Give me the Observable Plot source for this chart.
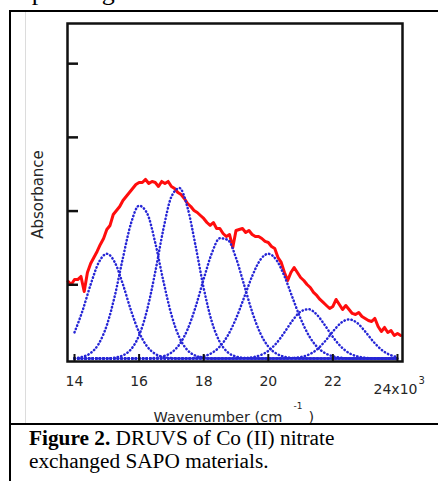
<!DOCTYPE html>
<html>
<head>
<meta charset="utf-8">
<script src="https://cdn.jsdelivr.net/npm/d3@7"></script>
<script src="https://cdn.jsdelivr.net/npm/@observablehq/plot@0.6"></script>
<style>
  html, body { margin: 0; padding: 0; background: white; }
  #page { position: relative; width: 438px; height: 481px; overflow: hidden; background: white; }
  .serif { font-family: "Liberation Serif", "Times New Roman", serif; color: #000; white-space: nowrap; }
  #toptext { position: absolute; left: 10px; top: -22.8px; font-size: 26px; line-height: 30px; }
  #caption { position: absolute; left: 29px; top: 427.2px; font-size: 21.3px; line-height: 23px; }
  .hline { position: absolute; background: #000; }
  #chart { position: absolute; left: 25px; top: 12px; }
</style>
</head>
<body>
<div id="page">
  <div id="toptext" class="serif">separate grant.</div>
  <div id="chart"></div>
  <div class="hline" style="left:9px; top:10px; width:429px; height:2px;"></div>
  <div class="hline" style="left:9px; top:10px; width:2px; height:471px;"></div>
  <div class="hline" style="left:25px; top:12px; width:1px; height:411px; background:#dcdcdc;"></div>
  <div class="hline" style="left:9px; top:423px; width:429px; height:2px;"></div>
  <div id="caption" class="serif"><b>Figure 2.</b> DRUVS of Co (II) nitrate<br>exchanged SAPO materials.</div>
</div>
<script>
// Measured spectrum (red): wavenumber in 10^3 cm^-1, absorbance in arbitrary units
const wavenumber = [13.8,13.9,14.0,14.1,14.2,14.3,14.4,14.5,14.6,14.7,14.8,14.9,15.0,15.1,15.2,15.3,15.4,15.5,15.6,15.7,15.8,15.9,
  16.0,16.1,16.2,16.3,16.4,16.5,16.6,16.7,16.8,16.9,17.0,17.1,17.2,17.3,17.4,17.5,17.6,17.7,17.8,17.9,
  18.0,18.1,18.2,18.3,18.4,18.5,18.6,18.7,18.8,18.9,19.0,19.1,19.2,19.3,19.4,19.5,19.6,19.7,19.8,19.9,
  20.0,20.1,20.2,20.3,20.4,20.5,20.6,20.7,20.8,20.9,21.0,21.1,21.2,21.3,21.4,21.5,21.6,21.7,21.8,21.9,
  22.0,22.1,22.2,22.3,22.4,22.5,22.6,22.7,22.8,22.9,23.0,23.1,23.2,23.3,23.4,23.5,23.6,23.7,23.8,23.9,
  24.0,24.1];
const absorbance = [1.045,1.004,1.072,1.070,1.113,0.908,1.167,1.289,1.370,1.452,1.547,1.628,1.750,1.805,1.954,2.008,2.062,2.144,2.198,2.252,2.307,2.361,
  2.388,2.388,2.429,2.375,2.402,2.388,2.334,2.402,2.375,2.402,2.334,2.307,2.252,2.225,2.171,2.103,2.062,2.008,1.981,1.940,
  1.900,1.845,1.805,1.845,1.764,1.764,1.696,1.655,1.682,1.506,1.737,1.750,1.764,1.710,1.737,1.682,1.655,1.655,1.628,1.588,
  1.574,1.520,1.493,1.370,1.303,1.167,1.058,1.167,1.235,1.167,1.099,1.058,1.004,0.963,0.896,0.855,0.801,0.760,0.719,0.678,
  0.706,0.801,0.733,0.665,0.719,0.665,0.611,0.597,0.624,0.570,0.543,0.516,0.502,0.543,0.434,0.366,0.421,0.353,0.380,0.312,
  0.339,0.312];

// Fitted component bands (blue dotted), sampled on a common wavenumber grid
const bandX = [14.0,14.25,14.5,14.75,15.0,15.25,15.5,15.75,16.0,16.25,16.5,16.75,17.0,17.25,17.5,17.75,18.0,18.25,18.5,18.75,
  19.0,19.25,19.5,19.75,20.0,20.25,20.5,20.75,21.0,21.25,21.5,21.75,22.0,22.25,22.5,22.75,23.0,23.25,23.5,23.75,24.0];
const band1 = [0.354,0.650,1.004,1.302,1.42,1.302,1.004,0.650,0.354,0.162,0.062,0.020,0.005,0,0,0,0,0,0,0,
  0,0,0,0,0,0,0,0,0,0,0,0,0,0,0,0,0,0,0,0,0];
const band2 = [0.006,0.023,0.074,0.199,0.450,0.855,1.367,1.835,2.073,1.968,1.570,1.053,0.594,0.282,0.112,0.038,0.011,0,0,0,
  0,0,0,0,0,0,0,0,0,0,0,0,0,0,0,0,0,0,0,0,0];
const band3 = [0,0,0,0,0,0.012,0.042,0.125,0.314,0.663,1.174,1.751,2.195,2.312,2.047,1.524,0.954,0.502,0.222,0.082,
  0.026,0.007,0,0,0,0,0,0,0,0,0,0,0,0,0,0,0,0,0,0,0];
const band4 = [0,0,0,0,0,0,0,0,0,0,0.009,0.029,0.080,0.191,0.394,0.702,1.078,1.427,1.631,1.607,
  1.365,1.001,0.633,0.345,0.162,0.066,0.023,0.007,0,0,0,0,0,0,0,0,0,0,0,0,0];
const band5 = [0,0,0,0,0,0,0,0,0,0,0,0,0,0,0,0.011,0.030,0.074,0.162,0.315,
  0.541,0.826,1.116,1.337,1.42,1.337,1.116,0.826,0.541,0.315,0.162,0.074,0.030,0.011,0,0,0,0,0,0,0];
const band6 = [0,0,0,0,0,0,0,0,0,0,0,0,0,0,0,0,0,0,0,0,
  0,0.005,0.016,0.044,0.103,0.207,0.354,0.515,0.636,0.668,0.596,0.452,0.292,0.160,0.074,0.029,0.010,0,0,0,0];
const band7 = [0,0,0,0,0,0,0,0,0,0,0,0,0,0,0,0,0,0,0,0,
  0,0,0,0,0,0,0,0.006,0.019,0.052,0.120,0.230,0.366,0.483,0.53,0.483,0.366,0.230,0.120,0.052,0.019];
const bands = [band1, band2, band3, band4, band5, band6, band7];

const xTickValues = [14, 16, 18, 20, 22, 24];
const xTickLabels = [14, 16, 18, 20, 22];
const yTickValues = [1, 2, 3, 4];

const spectrum = wavenumber.map((w, i) => ({w, a: absorbance[i]}));
const bandRows = bands.map(b => bandX.map((w, i) => ({w, a: b[i]})));

const ink = "#111";
const txt = "#262626";
const blue = "#2626d6";

const chart = Plot.plot({
  width: 413,
  height: 411,
  marginLeft: 42,
  marginRight: 36,
  marginTop: 11,
  marginBottom: 62,
  style: {fontFamily: "'DejaVu Sans', sans-serif", fontSize: "14px", background: "white", overflow: "visible"},
  x: {domain: [13.783, 24.155], axis: null},
  y: {domain: [-0.041, 4.545], axis: null},
  marks: [
    Plot.line(spectrum, {x: "w", y: "a", stroke: "#ff0d0d", strokeWidth: 3, strokeLinejoin: "round"}),
    ...bandRows.map(rows => Plot.line(rows, {x: "w", y: "a", stroke: blue, strokeWidth: 2.5,
      strokeDasharray: "0.4 3.2", strokeLinecap: "round", curve: "monotone-x"})),
    Plot.tickY(yTickValues, {y: d => d, stroke: ink, strokeWidth: 2.5, insetRight: 324}),
    Plot.tickX(xTickValues, {x: d => d, stroke: ink, strokeWidth: 2, insetTop: 331}),
    Plot.frame({stroke: ink, strokeWidth: 2.5}),
    Plot.text(xTickLabels, {x: d => d, frameAnchor: "bottom", text: d => String(d), dy: 24,
      lineAnchor: "bottom", fill: txt, fontSize: 14}),
    Plot.text([24], {x: d => d, frameAnchor: "bottom", text: () => "24x10", dx: -2, dy: 32,
      lineAnchor: "bottom", fill: txt, fontSize: 14}),
    Plot.text([24], {x: d => d, frameAnchor: "bottom", text: () => "3", dx: 21, dy: 22,
      textAnchor: "start", lineAnchor: "bottom", fill: txt, fontSize: 10}),
    Plot.text(["Wavenumber (cm"], {frameAnchor: "bottom", text: d => d, dx: -81.5, dy: 60,
      textAnchor: "start", lineAnchor: "bottom", fill: txt, fontSize: 14.5}),
    Plot.text(["-1"], {frameAnchor: "bottom", text: d => d, dx: 58.5, dy: 47,
      textAnchor: "start", lineAnchor: "bottom", fill: txt, fontSize: 9}),
    Plot.text([")"], {frameAnchor: "bottom", text: d => d, dx: 73.5, dy: 60,
      textAnchor: "start", lineAnchor: "bottom", fill: txt, fontSize: 14.5}),
    Plot.text(["Absorbance"], {frameAnchor: "left", text: d => d, dx: -29.3, dy: 2, rotate: -90,
      textAnchor: "middle", lineAnchor: "middle", fill: txt, fontSize: 15})
  ]
});
document.getElementById("chart").appendChild(chart);
</script>
</body>
</html>
